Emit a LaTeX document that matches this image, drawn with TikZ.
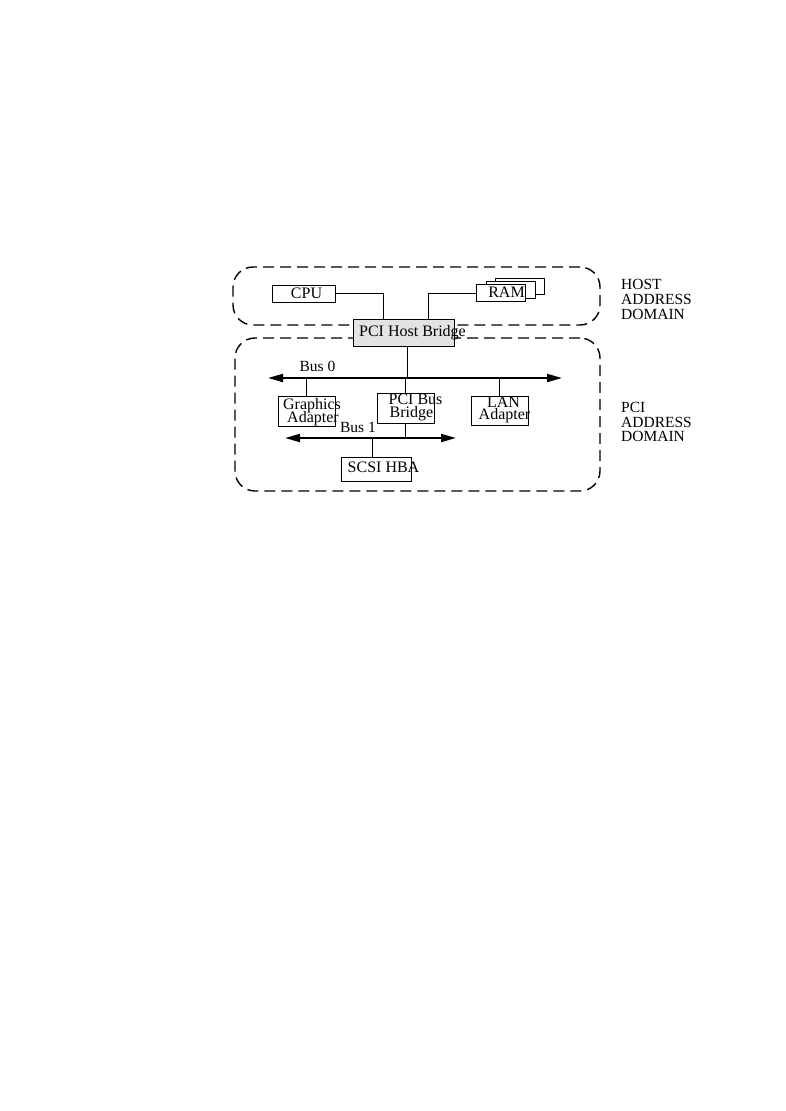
\documentclass[tikz,border=0pt]{standalone}
\usepackage{fontspec}
\setmainfont{Liberation Serif}
\usepackage{tikz}
\usetikzlibrary{arrows.meta}
\definecolor{BridgeGray}{HTML}{E3E3E3}

\begin{document}
\begin{tikzpicture}[x=1pt,y=-1pt,
  addrdom/.style={draw,dash pattern=on 11pt off 6pt,line width=1.4pt,rounded corners=20pt,inner sep=0pt},
  box/.style={draw,line width=0.9pt,inner sep=0pt,fill=white},
  wire/.style={line width=0.9pt},
  bus/.style={{Triangle[length=15pt,width=8pt]}-{Triangle[length=15pt,width=8pt]},line width=2pt},
  txt/.style={anchor=base,inner sep=0pt,font=\fontsize{16}{16}\selectfont},
  tag/.style={anchor=base west,inner sep=0pt,font=\fontsize{15.5}{15.5}\selectfont}
]
\useasboundingbox (0,0) rectangle (786,1111);

\node[addrdom,minimum width=367pt,minimum height=58pt] (hostdom) at (416.5,296) {};
\node[addrdom,minimum width=365pt,minimum height=153pt] (pcidom) at (417.5,414.5) {};

\coordinate (b0l) at (268,378);
\coordinate (b0r) at (562,378);
\coordinate (b1l) at (285,438);
\coordinate (b1r) at (456,438);

\node[box,minimum width=63pt,minimum height=17pt] (cpu) at (303.5,293.5) {};
\node[box,minimum width=49pt,minimum height=16.5pt] (ram3) at (520,286.5) {};
\node[box,minimum width=49pt,minimum height=16.5pt] (ram2) at (510.5,289.8) {};
\node[box,minimum width=49pt,minimum height=16.5pt] (ram) at (501,293) {};
\node[box,fill=BridgeGray,minimum width=101pt,minimum height=27pt] (hb) at (403.5,332.5) {};
\node[box,minimum width=57pt,minimum height=30pt] (gfx) at (306.5,411) {};
\node[box,minimum width=57pt,minimum height=30pt] (pbb) at (405.5,408) {};
\node[box,minimum width=57pt,minimum height=29pt] (lan) at (499.5,410.5) {};
\node[box,minimum width=70pt,minimum height=24pt] (scsi) at (376,469) {};

\draw[wire] (cpu.east) -| ([xshift=-20.5]hb.north);
\draw[wire] ([xshift=24.5]hb.north) |- (ram.west);
\draw[wire] ([xshift=3.5]hb.south) -- ([xshift=3.5]hb.south |- b0l);
\draw[wire] (gfx.north) -- (gfx.north |- b0l);
\draw[wire] (pbb.north) -- (pbb.north |- b0l);
\draw[wire] (lan.north) -- (lan.north |- b0l);
\draw[wire] (pbb.south) -- (pbb.south |- b1l);
\draw[wire] ([xshift=-4]scsi.north) -- ([xshift=-4]scsi.north |- b1l);

\draw[bus] (b0l) -- (b0r);
\draw[bus] (b1l) -- (b1r);

\node[txt] (cpuT) at (306.5,298) {CPU};
\node[txt] (ramT) at (506.5,297.5) {RAM};
\node[txt] (hbT) at (412.5,336) {PCI Host Bridge};
\node[txt] (gfxA) at (312,409) {Graphics};
\node[txt] (gfxB) at (313,422) {Adapter};
\node[txt] (pbbA) at (415.5,404.5) {PCI Bus};
\node[txt] (pbbB) at (411.5,417) {Bridge};
\node[txt] (lanA) at (503.5,407) {LAN};
\node[txt] (lanB) at (504.5,419.5) {Adapter};
\node[txt] (scsiT) at (383.5,472) {SCSI HBA};
\node[txt,font=\fontsize{15.5}{15.5}\selectfont] (bus0T) at (317.5,371.5) {Bus 0};
\node[txt,font=\fontsize{15.5}{15.5}\selectfont] (bus1T) at (358,432) {Bus 1};

\node[tag] (hostA) at (621,289) {HOST};
\node[tag] (hostB) at (621,304.5) {ADDRESS};
\node[tag] (hostC) at (621,319) {DOMAIN};
\node[tag] (pciA) at (621,412) {PCI};
\node[tag] (pciB) at (621,427) {ADDRESS};
\node[tag] (pciC) at (621,441) {DOMAIN};
\end{tikzpicture}
\end{document}
